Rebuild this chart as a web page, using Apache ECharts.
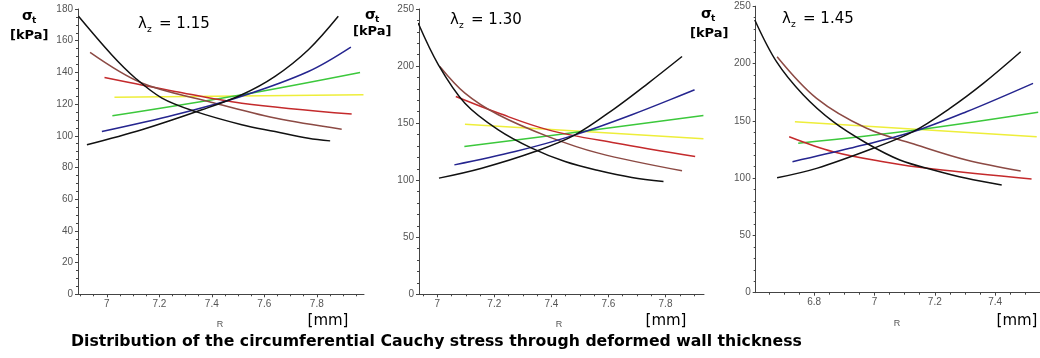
<!DOCTYPE html>
<html>
<head>
<meta charset="utf-8">
<script src="https://cdn.jsdelivr.net/npm/echarts@6/dist/echarts.min.js"></script>
<style>
html,body{margin:0;padding:0;background:#fff;}
#c{width:1040px;height:358px;}
</style>
</head>
<body>
<div id="c"></div>
<script>
// ---------- data (R [mm], sigma_t [kPa]) ----------
// Panel 1: lambda_z = 1.15
const p1BlackDec = [[6.892,175.4],[7.019,151],[7.108,136.5],[7.21,123.8],[7.336,115.4],[7.514,107],[7.641,102.7],[7.768,98.5],[7.851,96.8]];
const p1BlackInc = [[6.924,94.3],[7.133,103.8],[7.362,116.4],[7.514,125.9],[7.641,137.5],[7.768,154.3],[7.882,175.4]];
const p1Brown    = [[6.936,152.6],[7.133,133.3],[7.387,121.7],[7.641,111.2],[7.895,104.2]];
const p1Red      = [[6.991,136.8],[7.26,128],[7.514,120.6],[7.933,113.7]];
const p1Yellow   = [[7.029,124.4],[7.978,125.9]];
const p1Green    = [[7.021,112.6],[7.514,125.9],[7.965,140]];
const p1Blue     = [[6.981,102.7],[7.26,113.3],[7.514,125],[7.768,140.6],[7.93,156]];
// Panel 2: lambda_z = 1.30
const p2BlackDec = [[6.933,237.7],[7.004,201.1],[7.097,167.5],[7.214,144.1],[7.331,128.1],[7.448,116.3],[7.565,108.4],[7.682,102.3],[7.793,98.8]];
const p2BlackInc = [[7.006,101.8],[7.156,110.5],[7.343,125.1],[7.483,139.7],[7.624,163.2],[7.74,185.1],[7.858,208.4]];
const p2Brown    = [[7.009,199.7],[7.097,176.3],[7.214,157.3],[7.389,138.2],[7.565,123.7],[7.858,108.2]];
const p2Red      = [[7.065,173.3],[7.214,158.8],[7.389,144.1],[7.624,132.5],[7.904,120.7]];
const p2Yellow   = [[7.097,149.1],[7.933,136.2]];
const p2Green    = [[7.095,129.5],[7.507,142.6],[7.933,156.7]];
const p2Blue     = [[7.06,113.4],[7.273,125.1],[7.483,139.7],[7.682,157.3],[7.902,179.2]];
// Panel 3: lambda_z = 1.45
const p3BlackDec = [[6.603,238],[6.675,201.6],[6.764,172.5],[6.863,149.2],[6.974,130.4],[7.084,115.8],[7.195,107.1],[7.305,99.8],[7.422,94]];
const p3BlackInc = [[6.677,100.3],[6.808,108.5],[6.996,126],[7.128,140.5],[7.25,160.9],[7.361,182.7],[7.485,210.3]];
const p3Brown    = [[6.677,205.9],[6.808,169.6],[6.974,143.5],[7.14,128.9],[7.305,115.8],[7.485,106.2]];
const p3Red      = [[6.717,136.1],[6.863,123],[7.029,114.3],[7.195,107.9],[7.521,99.2]];
const p3Yellow   = [[6.736,149.2],[7.538,136.1]];
const p3Green    = [[6.747,130.4],[7.14,142],[7.543,157.4]];
const p3Blue     = [[6.728,114.3],[6.918,126],[7.128,140.5],[7.305,157.9],[7.526,182.7]];

// tick labels
const p1XTicks = [7, 7.2, 7.4, 7.6, 7.8];
const p2XTicks = [7, 7.2, 7.4, 7.6, 7.8];
const p3XTicks = [6.8, 7, 7.2, 7.4];
const lambdaLabels = ['= 1.15', '= 1.30', '= 1.45'];
const titleText = 'Distribution of the circumferential Cauchy stress through deformed wall thickness';

// ---------- styling / layout ----------
const COLORS = {black:'#111111', brown:'#8c4a44', red:'#c42a2c', yellow:'#eeee3a', green:'#3cc83c', blue:'#25258f'};
const panels = [
  {grid:{left:78, top:9, width:286, height:285.3}, xmin:6.89, xmax:7.98, ymax:180, yint:20, ysplit:4, xticks:p1XTicks,
   series:{yellow:p1Yellow, green:p1Green, red:p1Red, brown:p1Brown, blue:p1Blue, blackDec:p1BlackDec, blackInc:p1BlackInc}},
  {grid:{left:419, top:9, width:285, height:285.3}, xmin:6.936, xmax:7.935, ymax:250, yint:50, ysplit:5, xticks:p2XTicks,
   series:{yellow:p2Yellow, green:p2Green, red:p2Red, brown:p2Brown, blue:p2Blue, blackDec:p2BlackDec, blackInc:p2BlackInc}},
  {grid:{left:755.7, top:6.2, width:284.3, height:286.5}, xmin:6.606, xmax:7.549, ymax:250, yint:50, ysplit:5, xticks:p3XTicks,
   series:{yellow:p3Yellow, green:p3Green, red:p3Red, brown:p3Brown, blue:p3Blue, blackDec:p3BlackDec, blackInc:p3BlackInc}}
];

const grids = [], xAxes = [], yAxes = [], series = [];
const labelStyle = {fontFamily:'"Liberation Sans", Arial, sans-serif', fontSize:10, color:'#555'};
const axisLineStyle = {color:'#444', width:1};

panels.forEach((p, i) => {
  grids.push(p.grid);
  // main x-axis with labels
  xAxes.push({
    type:'value', gridIndex:i, min:p.xmin, max:p.xmax, position:'bottom',
    axisLine:{show:true, onZero:false, lineStyle:axisLineStyle},
    axisTick:{show:true, length:3, customValues:p.xticks, lineStyle:axisLineStyle},
    axisLabel:{...labelStyle, margin:5, customValues:p.xticks, formatter:v => String(Math.round(v*10)/10)},
    splitLine:{show:false}
  });
  // minor x ticks
  const minor = [];
  for (let v = Math.ceil(p.xmin*20)/20; v <= p.xmax + 1e-9; v += 0.05) minor.push(Math.round(v*100)/100);
  xAxes.push({
    type:'value', gridIndex:i, min:p.xmin, max:p.xmax, position:'bottom',
    axisLine:{show:false},
    axisTick:{show:true, length:2, customValues:minor, lineStyle:axisLineStyle},
    axisLabel:{show:false}, splitLine:{show:false}
  });
  yAxes.push({
    type:'value', gridIndex:i, min:0, max:p.ymax, interval:p.yint,
    axisLine:{show:true, lineStyle:axisLineStyle},
    axisTick:{show:true, length:3, lineStyle:axisLineStyle},
    minorTick:{show:true, splitNumber:p.ysplit, length:2, lineStyle:axisLineStyle},
    axisLabel:{...labelStyle, margin:5},
    splitLine:{show:false}
  });
  const order = ['yellow','green','red','brown','blue','blackDec','blackInc'];
  order.forEach(k => {
    const col = k.startsWith('black') ? COLORS.black : COLORS[k];
    series.push({
      type:'line', xAxisIndex:i*2, yAxisIndex:i, data:p.series[k],
      smooth:0.35, showSymbol:false, symbol:'none', silent:true,
      lineStyle:{color:col, width:1.5}
    });
  });
});

function txt(x, y, text, font, fill, align, va) {
  return {type:'text', x:x, y:y, silent:true,
    style:{text:text, font:font, fill:fill || '#000', align:align || 'left', verticalAlign:va || 'middle'}};
}
const FB = 'bold 13px "DejaVu Sans", Verdana, sans-serif';
const FBsub = 'bold 9px "DejaVu Sans", Verdana, sans-serif';
const FL = '15px "DejaVu Sans", Verdana, sans-serif';
const FLsub = '9px "DejaVu Sans", Verdana, sans-serif';
const FMM = '15px "DejaVu Sans", Verdana, sans-serif';
const FR = '9px "Liberation Sans", Arial, sans-serif';

const sigmaPos = [[22,16,10,36],[365,15,353,32],[701,14,690,34]];
const lambdaPos = [[138,24],[450,20],[782,19]];
const rPos = [[220,325],[559,325],[897,324]];
const mmPos = [[328,321],[666,321],[1017,321]];

const graphics = [];
for (let i = 0; i < 3; i++) {
  const s = sigmaPos[i];
  graphics.push(txt(s[0], s[1], 'σ', 'bold 14px "DejaVu Sans", Verdana, sans-serif', '#000', 'left', 'middle'));
  graphics.push(txt(s[0]+10, s[1]+5, 't', FBsub, '#000', 'left', 'middle'));
  graphics.push(txt(s[2], s[3], '[kPa]', FB, '#000', 'left', 'middle'));
  const l = lambdaPos[i];
  graphics.push(txt(l[0], l[1], 'λ', FL, '#000', 'left', 'middle'));
  graphics.push(txt(l[0]+9, l[1]+6, 'z', FLsub, '#000', 'left', 'middle'));
  graphics.push(txt(l[0]+21, l[1], lambdaLabels[i], FL, '#000', 'left', 'middle'));
  graphics.push(txt(rPos[i][0], rPos[i][1], 'R', FR, '#555', 'center', 'middle'));
  graphics.push(txt(mmPos[i][0], mmPos[i][1], '[mm]', FMM, '#000', 'center', 'middle'));
}
graphics.push(txt(71, 342, titleText, 'bold 15.7px "DejaVu Sans", Verdana, sans-serif', '#000', 'left', 'middle'));

const chart = echarts.init(document.getElementById('c'), null, {renderer:'canvas'});
chart.setOption({
  backgroundColor:'#fff',
  animation:false,
  grid:grids, xAxis:xAxes, yAxis:yAxes, series:series,
  graphic:graphics
});
</script>
</body>
</html>
